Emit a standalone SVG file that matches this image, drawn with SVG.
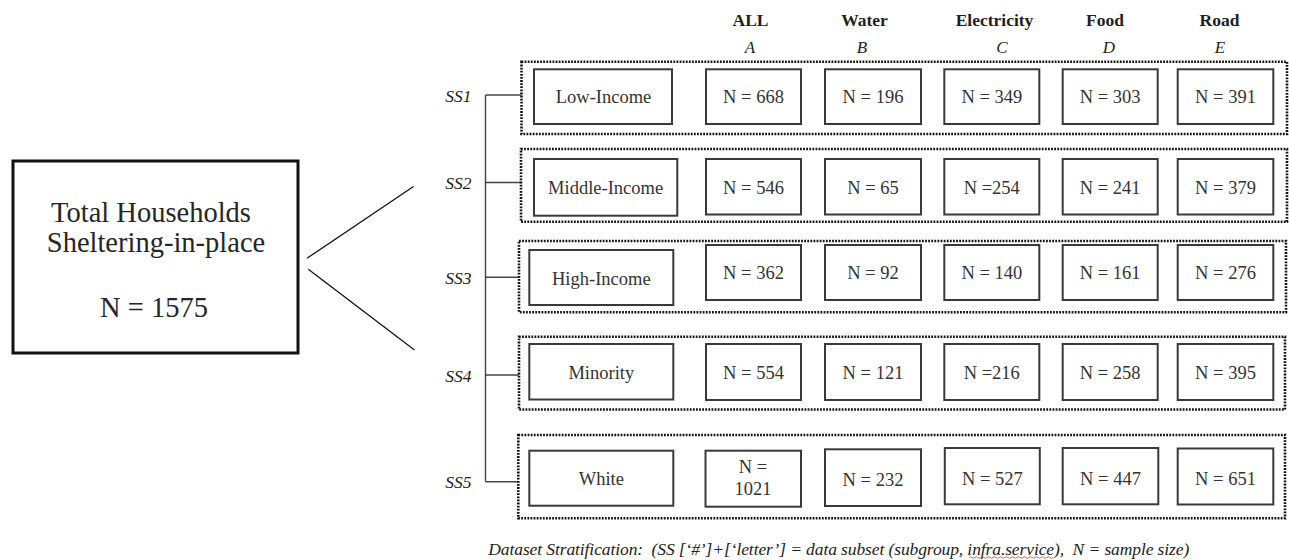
<svg xmlns="http://www.w3.org/2000/svg" width="1289" height="560" viewBox="0 0 1289 560">
  <style>
    .bg { fill: #ffffff; }
    .total { fill: #ffffff; stroke: #111111; stroke-width: 3; }
    .total-text { font-family: "Liberation Serif", "Times New Roman", serif; font-size: 28.5px; fill: #262626; text-anchor: middle; }
    .group { fill: none; stroke: #111111; stroke-width: 2.6; stroke-dasharray: 1.8 1.3; }
    .cell { fill: #ffffff; stroke: #3a3a3a; stroke-width: 2; }
    .cell-text { font-family: "Liberation Serif", "Times New Roman", serif; font-size: 18.5px; fill: #333333; text-anchor: middle; }
    .head { font-family: "Liberation Serif", "Times New Roman", serif; font-size: 17.5px; font-weight: bold; fill: #1e1e1e; text-anchor: middle; }
    .letter { font-family: "Liberation Serif", "Times New Roman", serif; font-size: 17px; font-style: italic; fill: #1e1e1e; text-anchor: middle; }
    .ss { font-family: "Liberation Serif", "Times New Roman", serif; font-size: 17.5px; font-style: italic; fill: #222222; text-anchor: end; }
    .split { fill: none; stroke: #111111; stroke-width: 1.3; }
    .tree { fill: none; stroke: #444444; stroke-width: 1.4; }
    .caption { font-family: "Liberation Serif", "Times New Roman", serif; font-size: 17.5px; font-style: italic; fill: #222222; }
    .squiggle { fill: none; stroke: #e0504a; stroke-width: 0.9; }
  </style>

  <rect class="bg" x="0" y="0" width="1289" height="560"/>

  <!-- Source population -->
  <g id="total-households">
    <rect class="total" x="13" y="161" width="285" height="192"/>
    <text class="total-text" x="151" y="221.5">Total Households</text>
    <text class="total-text" x="156" y="251.5">Sheltering-in-place</text>
    <text class="total-text" x="154" y="316.5">N = 1575</text>
  </g>

  <!-- Column headings -->
  <g id="column-headings">
    <text class="head" x="750.5" y="26">ALL</text>
    <text class="head" x="864.5" y="26">Water</text>
    <text class="head" x="994.5" y="26">Electricity</text>
    <text class="head" x="1105" y="26">Food</text>
    <text class="head" x="1219.5" y="26">Road</text>
    <text class="letter" x="750" y="53">A</text>
    <text class="letter" x="862" y="53">B</text>
    <text class="letter" x="1002" y="53">C</text>
    <text class="letter" x="1109" y="53">D</text>
    <text class="letter" x="1220" y="53">E</text>
  </g>

  <!-- Connectors: split from the total and the subset tree -->
  <g id="connectors">
    <line class="split" x1="307" y1="258.3" x2="413.5" y2="186.5"/>
    <line class="split" x1="308.3" y1="269.3" x2="414.5" y2="350"/>
    <line class="tree" x1="485.5" y1="95" x2="485.5" y2="481.7"/>
    <line class="tree" x1="485.5" y1="95" x2="521.5" y2="95"/>
    <line class="tree" x1="485.5" y1="182.5" x2="521" y2="182.5"/>
    <line class="tree" x1="485.5" y1="277.3" x2="519" y2="277.3"/>
    <line class="tree" x1="485.5" y1="375" x2="519" y2="375"/>
    <line class="tree" x1="485.5" y1="481.7" x2="518.3" y2="481.7"/>
  </g>

  <!-- SS1 -->
  <g id="ss1">
    <text class="ss" x="471.5" y="101.5">SS1</text>
    <rect class="group" x="521.5" y="61.7" width="765.5" height="72.3"/>
    <rect class="cell" x="534" y="69.3" width="138" height="54.7"/>
    <text class="cell-text" x="603.5" y="103.3">Low-Income</text>
    <rect class="cell" x="706" y="69.3" width="95" height="54.7"/>
    <text class="cell-text" x="753.5" y="103.3">N = 668</text>
    <rect class="cell" x="825" y="69.3" width="96" height="54.7"/>
    <text class="cell-text" x="873" y="103.3">N = 196</text>
    <rect class="cell" x="944.3" y="69.3" width="95" height="54.7"/>
    <text class="cell-text" x="991.8" y="103.3">N = 349</text>
    <rect class="cell" x="1062.7" y="69.3" width="95" height="54.7"/>
    <text class="cell-text" x="1110.2" y="103.3">N = 303</text>
    <rect class="cell" x="1177.7" y="69.3" width="95.6" height="54.7"/>
    <text class="cell-text" x="1225.5" y="103.3">N = 391</text>
  </g>

  <!-- SS2 -->
  <g id="ss2">
    <text class="ss" x="471.5" y="189.3">SS2</text>
    <rect class="group" x="521" y="149" width="766" height="72.7"/>
    <rect class="cell" x="534" y="159" width="143.3" height="56.7"/>
    <text class="cell-text" x="605.6" y="194">Middle-Income</text>
    <rect class="cell" x="706" y="159" width="95" height="55.5"/>
    <text class="cell-text" x="753.5" y="193.5">N = 546</text>
    <rect class="cell" x="825" y="159" width="96" height="55.5"/>
    <text class="cell-text" x="873" y="193.5">N = 65</text>
    <rect class="cell" x="944.3" y="159" width="95" height="55.5"/>
    <text class="cell-text" x="991.8" y="193.5">N =254</text>
    <rect class="cell" x="1062.7" y="159" width="95" height="55.5"/>
    <text class="cell-text" x="1110.2" y="193.5">N = 241</text>
    <rect class="cell" x="1177.7" y="159" width="95.6" height="55.5"/>
    <text class="cell-text" x="1225.5" y="193.5">N = 379</text>
  </g>

  <!-- SS3 -->
  <g id="ss3">
    <text class="ss" x="471.5" y="284">SS3</text>
    <rect class="group" x="519" y="241" width="767" height="71.3"/>
    <rect class="cell" x="529.3" y="250" width="144" height="55"/>
    <text class="cell-text" x="601.3" y="284.5">High-Income</text>
    <rect class="cell" x="706" y="245" width="95" height="55"/>
    <text class="cell-text" x="753.5" y="279">N = 362</text>
    <rect class="cell" x="825" y="245" width="96" height="55"/>
    <text class="cell-text" x="873" y="279">N = 92</text>
    <rect class="cell" x="944.3" y="245" width="95" height="55"/>
    <text class="cell-text" x="991.8" y="279">N = 140</text>
    <rect class="cell" x="1062.7" y="245" width="95" height="55"/>
    <text class="cell-text" x="1110.2" y="279">N = 161</text>
    <rect class="cell" x="1177.7" y="245" width="95.6" height="55"/>
    <text class="cell-text" x="1225.5" y="279">N = 276</text>
  </g>

  <!-- SS4 -->
  <g id="ss4">
    <text class="ss" x="471.5" y="381.5">SS4</text>
    <rect class="group" x="519" y="336.7" width="766" height="72.8"/>
    <rect class="cell" x="529.3" y="344" width="144" height="55.5"/>
    <text class="cell-text" x="601.3" y="378.5">Minority</text>
    <rect class="cell" x="706" y="344" width="95" height="56"/>
    <text class="cell-text" x="753.5" y="378.5">N = 554</text>
    <rect class="cell" x="825" y="344" width="96" height="56"/>
    <text class="cell-text" x="873" y="378.5">N = 121</text>
    <rect class="cell" x="944.3" y="344" width="95" height="56"/>
    <text class="cell-text" x="991.8" y="378.5">N =216</text>
    <rect class="cell" x="1062.7" y="344" width="95" height="56"/>
    <text class="cell-text" x="1110.2" y="378.5">N = 258</text>
    <rect class="cell" x="1177.7" y="344" width="95.6" height="56"/>
    <text class="cell-text" x="1225.5" y="378.5">N = 395</text>
  </g>

  <!-- SS5 -->
  <g id="ss5">
    <text class="ss" x="471.5" y="488.2">SS5</text>
    <rect class="group" x="518.3" y="435" width="766.7" height="83.3"/>
    <rect class="cell" x="529.3" y="450.7" width="144" height="55"/>
    <text class="cell-text" x="601.3" y="485">White</text>
    <rect class="cell" x="705.5" y="450.7" width="95.5" height="56"/>
    <text class="cell-text" x="753" y="472.7">N =</text>
    <text class="cell-text" x="753" y="495">1021</text>
    <rect class="cell" x="825" y="449.3" width="96" height="56.7"/>
    <text class="cell-text" x="873" y="486">N = 232</text>
    <rect class="cell" x="944.8" y="448" width="95" height="56.3"/>
    <text class="cell-text" x="992.3" y="484.5">N = 527</text>
    <rect class="cell" x="1062.7" y="448" width="95.6" height="56.3"/>
    <text class="cell-text" x="1110.5" y="484.5">N = 447</text>
    <rect class="cell" x="1177.7" y="448.5" width="95.6" height="56"/>
    <text class="cell-text" x="1225.5" y="484.5">N = 651</text>
  </g>

  <!-- Legend line -->
  <g id="caption">
    <text class="caption" x="488.3" y="555" textLength="701" lengthAdjust="spacing" xml:space="preserve">Dataset Stratification:  (SS [‘#’]+[‘letter’] = data subset (subgroup, infra.service),  N = sample size)</text>
    <path class="squiggle" d="M969 557.5 q1.5 -1.5 3 0 t3 0 t3 0 t3 0 t3 0 t3 0 t3 0 t3 0 t3 0 t3 0 t3 0 t3 0 t3 0 t3 0 t3 0 t3 0 t3 0 t3 0 t3 0 t3 0 t3 0 t3 0 t3 0 t3 0 t3 0 t3 0 t3 0 t3 0"/>
  </g>
</svg>
